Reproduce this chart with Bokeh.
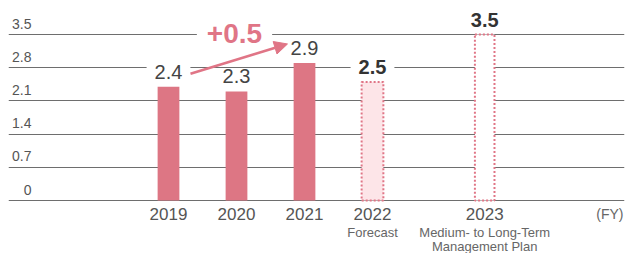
from bokeh.plotting import figure
from bokeh.models import Range1d, FixedTicker, Arrow, NormalHead
from bokeh.core.properties import value
from bokeh.embed import file_html
from bokeh.resources import INLINE

# ---- data ----
years = ["2019", "2020", "2021", "2022", "2023"]
values = [2.4, 2.3, 2.9, 2.5, 3.5]
kinds = ["actual", "actual", "actual", "forecast", "plan"]
sub_labels = ["", "", "", "Forecast", "Medium- to Long-Term"]
sub_labels2 = ["", "", "", "", "Management Plan"]
y_ticks = [0, 0.7, 1.4, 2.1, 2.8, 3.5]
y_tick_labels = ["0", "0.7", "1.4", "2.1", "2.8", "3.5"]
delta_label = "+0.5"
unit_label = "(FY)"

# ---- layout ----
slots = [0, 1, 2, 3, 4.65]  # horizontal slot of each year
W, H = 627, 253
BL, BR = 8, 3
FW = W - BL - BR
x0, x1 = -2.353, 6.706
y0, y1 = -1.117, 4.217
ppx = FW / (x1 - x0)
ppu = H / (y1 - y0)
FONT = value("Liberation Sans")
PINK = "#dd7684"
PINK_LINE = "#e07586"

p = figure(width=W, height=H, output_backend="svg", toolbar_location=None,
           x_range=Range1d(x0, x1), y_range=Range1d(y0, y1),
           min_border_left=BL, min_border_right=BR, min_border_top=0,
           min_border_bottom=0, outline_line_color=None)
p.axis.visible = False
p.xgrid.visible = False
p.ygrid.ticker = FixedTicker(ticks=y_ticks)
p.ygrid.grid_line_color = "#6e6e6e"
p.ygrid.grid_line_width = 1

bw = 0.32
act = [i for i, k in enumerate(kinds) if k == "actual"]
fc = [i for i, k in enumerate(kinds) if k == "forecast"]
pl = [i for i, k in enumerate(kinds) if k == "plan"]

p.vbar(x=[slots[i] for i in act], top=[values[i] for i in act], width=bw,
       fill_color=PINK, line_color=None)
p.vbar(x=[slots[i] for i in fc], top=[values[i] for i in fc], width=bw,
       fill_color="#fde5e8", line_color=PINK_LINE, line_width=2, line_dash="2 2")
p.vbar(x=[slots[i] for i in pl], top=[values[i] for i in pl], width=bw * 0.9,
       fill_color="white", line_color=PINK_LINE, line_width=2, line_dash="2 2")

# y tick labels
p.text(x=[x0 + 23 / ppx] * len(y_ticks), y=[t + 11 / ppu for t in y_ticks],
       text=y_tick_labels, text_font=FONT, text_font_size="14px",
       text_color="#555555", text_align="right", text_baseline="middle")

# value labels
pad = dict(left=8, right=8, top=0, bottom=0)
norm = [i for i, k in enumerate(kinds) if k == "actual"]
bold = [i for i, k in enumerate(kinds) if k != "actual"]
p.text(x=[slots[i] for i in norm], y=[values[i] + 15 / ppu for i in norm],
       text=[f"{values[i]:.1f}" for i in norm], text_font=FONT,
       text_font_size="20px", text_color="#444444", text_align="center",
       text_baseline="middle", background_fill_color="white", padding=pad)
p.text(x=[slots[i] for i in bold], y=[values[i] + 15 / ppu for i in bold],
       text=[f"{values[i]:.1f}" for i in bold], text_font=FONT,
       text_font_size="20px", text_font_style="bold", text_color="#333333",
       text_align="center", text_baseline="middle",
       background_fill_color="white", padding=pad)

# delta label & arrow
p.text(x=[(slots[0] + slots[2]) / 2 - 2 / ppx], y=[values[4] + 1 / ppu],
       text=[delta_label], text_font=FONT, text_font_size="28px",
       text_font_style="bold", text_color=PINK_LINE, text_align="center",
       text_baseline="middle", background_fill_color="white",
       padding=dict(left=10, right=10, top=0, bottom=0))
p.add_layout(Arrow(x_start=slots[0] + 22 / ppx, y_start=values[0] + 13 / ppu,
                   x_end=slots[2] - 17 / ppx, y_end=values[2] + 19 / ppu,
                   line_color=PINK_LINE, line_width=2.5,
                   end=NormalHead(size=13, fill_color=PINK_LINE,
                                  line_color=PINK_LINE, line_width=1)))

# year labels
p.text(x=slots, y=[-13 / ppu] * len(years), text=years, text_font=FONT,
       text_font_size="17px", text_color="#555555", text_align="center",
       text_baseline="middle")
p.text(x=slots, y=[-31.5 / ppu] * len(years), text=sub_labels, text_font=FONT,
       text_font_size="13px", text_color="#666666", text_align="center",
       text_baseline="middle")
p.text(x=slots, y=[-46 / ppu] * len(years), text=sub_labels2, text_font=FONT,
       text_font_size="13px", text_color="#666666", text_align="center",
       text_baseline="middle")
p.text(x=[x1 - 1 / ppx], y=[-13 / ppu], text=[unit_label], text_font=FONT,
       text_font_size="14px", text_color="#666666", text_align="right",
       text_baseline="middle")

open("out.html", "w").write(file_html(p, INLINE))
